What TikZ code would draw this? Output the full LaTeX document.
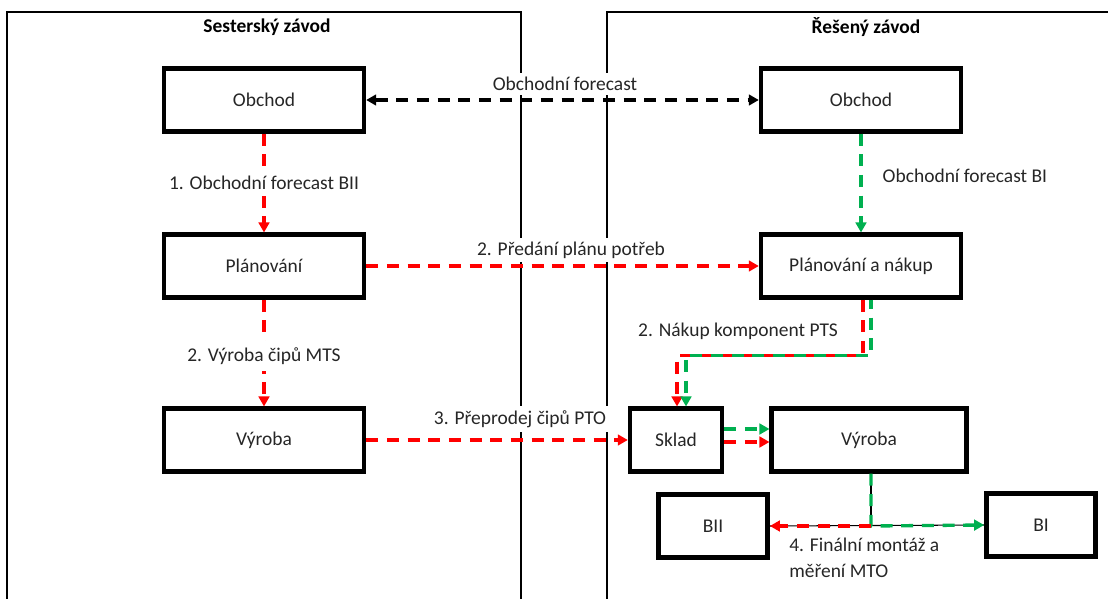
\documentclass[tikz,border=0pt]{standalone}
\usepackage{fontspec}
\setmainfont{Carlito}
\usetikzlibrary{arrows.meta,calc}
\definecolor{flowred}{HTML}{FF0000}
\definecolor{flowgreen}{HTML}{00B050}
\begin{document}
\begin{tikzpicture}[x=0.75pt,y=-0.75pt,
  font=\fontsize{14.6}{17}\selectfont,
  panel/.style={line width=1.2pt,black},
  unit/.style={draw,line width=3.3pt,inner sep=0pt,minimum width=150pt,minimum height=47pt,text=black!85},
  flow/.style={line width=2.5pt,dash pattern=on 9pt off 6.5pt,-{Triangle[length=7.5pt,width=8pt]}},
  both/.style={line width=2.5pt,dash pattern=on 9pt off 6.5pt,{Triangle[length=7.5pt,width=8pt]}-{Triangle[length=7.5pt,width=8pt]}},
  lbl/.style={fill=white,inner xsep=3pt,inner ysep=5pt,text=black!85},
  head/.style={font=\fontsize{14.6}{17}\selectfont\bfseries}]
\useasboundingbox (0,0) rectangle (1108,599);

% two plant panels, open at the bottom
\draw[panel] (7,599) -- (7,12) -- (521,12) -- (521,599);
\draw[panel] (607,599) -- (607,12) -- (1108,12);
\node[head] (hsis) at (267,27) {Sesterský závod};
\node[head] (hour) at (866,27) {Řešený závod};

% units of the sister plant
\node[unit] (obL) at (264,100) {Obchod};
\node[unit] (plL) at (264,266) {Plánování};
\node[unit] (vyL) at (264,440) {Výroba};

% units of the plant in question
\node[unit] (obR) at (861,100) {Obchod};
\node[unit] (plR) at (861,266) {Plánování a nákup};
\node[unit,minimum width=69pt] (sklad) at (676,440) {Sklad};
\node[unit,minimum width=146pt] (vyR) at (869,440) {Výroba};
\node[unit,minimum width=82pt] (bii) at (713,526) {BII};
\node[unit,minimum width=82pt] (bi) at (1041,525) {BI};

% sales forecast exchange
\draw[both,black] (obL.east) -- (obR.west);
\node[lbl,inner ysep=3pt] (tfc) at (565,84) {Obchodní forecast};

% sister plant flow
\draw[flow,flowred] (obL.south) -- (plL.north);
\node[lbl] (t1) at (264,183) {1. Obchodní forecast BII};
\draw[flow,flowred] (plL.south) -- (vyL.north);
\node[lbl] (t2) at (264,356) {2. Výroba čipů MTS};
\draw[flow,flowred] (plL.east) -- (plR.west);
\node[lbl,inner ysep=3pt] (t3) at (571,250) {2. Předání plánu potřeb};
\draw[flow,flowred] (vyL.east) -- (sklad.west);
\node[lbl,inner ysep=3pt] (t4) at (520,419) {3. Přeprodej čipů PTO};

% own plant flow
\draw[flow,flowgreen] (obR.south) -- (plR.north);
\node[anchor=west,text=black!85] (t5) at (878,176) {Obchodní forecast BI};

% purchase of components into the warehouse
\coordinate (rA) at ($(plR.south)+(2,0)$);
\coordinate (gA) at ($(plR.south)+(10,0)$);
\coordinate (rB) at ($(sklad.north)+(1,0)$);
\coordinate (gB) at ($(sklad.north)+(10,0)$);
\draw[flow,flowred] (rA) -- ($(rA)+(0,56)$) -| (rB);
\draw[flow,flowgreen,dash phase=2pt] (gA) -- ($(gA)+(0,56)$) -| (gB);
\node[text=black!85] (t6) at (738,331) {2. Nákup komponent PTS};

% warehouse to production
\draw[flow,flowgreen] ($(sklad.east)+(0,-11)$) -- ($(vyR.west)+(0,-11)$);
\draw[flow,flowred] ($(sklad.east)+(0,2)$) -- ($(vyR.west)+(0,2)$);

% final assembly split
\coordinate (j) at ($(vyR.south)+(2,0)$);
\coordinate (k) at (j |- bii.east);
\draw[line width=0.8pt,black] (j) -- (k);
\draw[line width=0.8pt,black] (bii.east) -- (bi.west);
\draw[flow,flowgreen] (j) -- (k) -- (bi.west);
\draw[flow,flowred] (k) -- (bii.east);
\node[anchor=north west,align=left,text=black!85,inner sep=0pt] (t7) at (789,538) {4. Finální montáž a\\[2pt] měření MTO};
\end{tikzpicture}
\end{document}
